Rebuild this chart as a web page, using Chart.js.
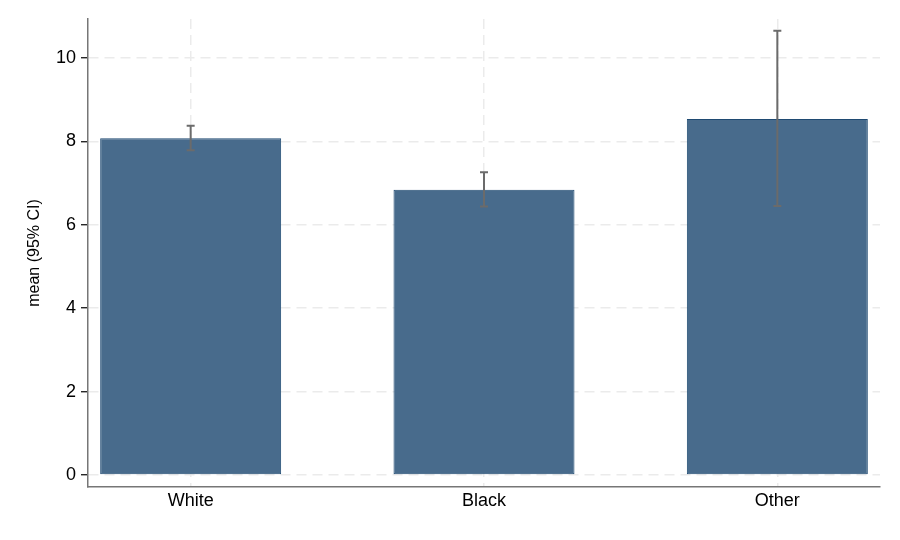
<!DOCTYPE html>
<html>
<head>
<meta charset="utf-8">
<script src="https://cdn.jsdelivr.net/npm/chart.js@4/dist/chart.umd.min.js"></script>
<style>
  html, body { margin: 0; padding: 0; background: #fff; }
  #wrap { width: 900px; height: 540px; }
</style>
</head>
<body>
<div id="wrap"><canvas id="c" width="900" height="540"></canvas></div>
<script>
const categories = ['White', 'Black', 'Other'];
const positions = [1, 2, 3];
const means = [8.08, 6.84, 8.54];
const ciLow = [7.79, 6.44, 6.45];
const ciHigh = [8.38, 7.26, 10.66];
const yTicks = [0, 2, 4, 6, 8, 10];
const xRange = [0.65, 3.35];
const yRange = [-0.29, 10.94];

const FONT = "'Liberation Sans', Arial, Helvetica, sans-serif";

const errorBars = {
  id: 'errorBars',
  afterDatasetsDraw(chart) {
    const {ctx, scales: {x, y}} = chart;
    ctx.save();
    ctx.strokeStyle = '#6b6b6b';
    ctx.lineWidth = 2;
    ctx.lineCap = 'butt';
    for (let i = 0; i < positions.length; i++) {
      const px = x.getPixelForValue(positions[i]);
      const pl = y.getPixelForValue(ciLow[i]);
      const ph = y.getPixelForValue(ciHigh[i]);
      ctx.beginPath();
      ctx.moveTo(px, pl); ctx.lineTo(px, ph);
      ctx.moveTo(px - 4, pl); ctx.lineTo(px + 4, pl);
      ctx.moveTo(px - 4, ph); ctx.lineTo(px + 4, ph);
      ctx.stroke();
    }
    ctx.restore();
  }
};

new Chart(document.getElementById('c'), {
  type: 'bar',
  data: {
    datasets: [{
      data: positions.map((p, i) => ({x: p, y: means[i]})),
      backgroundColor: '#486b8c',
      borderColor: '#1f4a72',
      borderWidth: 1,
      borderSkipped: false,
      barPercentage: 0.617,
      categoryPercentage: 1
    }]
  },
  plugins: [errorBars],
  options: {
    responsive: false,
    animation: false,
    layout: { padding: { top: 19, right: 20, bottom: 0, left: 0 } },
    plugins: { legend: { display: false }, tooltip: { enabled: false } },
    scales: {
      x: {
        type: 'linear',
        min: xRange[0],
        max: xRange[1],
        offset: false,
        afterBuildTicks(s) { s.ticks = positions.map(v => ({value: v})); },
        afterFit(s) { s.height = 53; },
        ticks: {
          color: '#000',
          font: { family: FONT, size: 18 },
          padding: 3,
          maxRotation: 0,
          autoSkip: false,
          callback: (v) => categories[positions.indexOf(v)]
        },
        grid: {
          offset: false,
          color: '#ebebeb',
          lineWidth: 1.5,
          drawTicks: false
        },
        border: { display: true, color: '#767676', width: 1.5, dash: [10, 6] }
      },
      y: {
        type: 'linear',
        min: yRange[0],
        max: yRange[1],
        afterBuildTicks(s) { s.ticks = yTicks.map(v => ({value: v})); },
        afterFit(s) { s.width = 88; },
        ticks: {
          color: '#000',
          font: { family: FONT, size: 18 },
          padding: 5
        },
        grid: {
          color: '#ebebeb',
          lineWidth: 1.5,
          drawTicks: true,
          tickLength: 7,
          tickColor: '#000',
          tickWidth: 1.2,
          tickBorderDash: []
        },
        border: { display: true, color: '#767676', width: 1.5, dash: [10, 6] },
        title: {
          display: true,
          text: 'mean (95% CI)',
          color: '#000',
          font: { family: FONT, size: 16 },
          padding: { top: 25, bottom: 0 }
        }
      }
    }
  }
});
</script>
</body>
</html>
